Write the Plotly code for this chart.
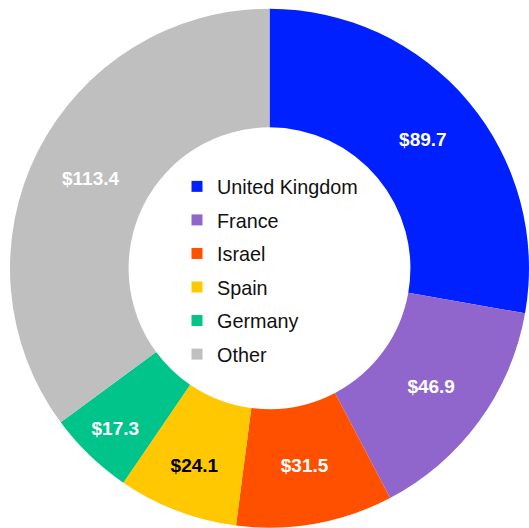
import plotly.graph_objects as go

countries = ["United Kingdom", "France", "Israel", "Spain", "Germany", "Other"]
values = [89.7, 46.9, 31.5, 24.1, 17.3, 113.4]
colors = ["#0020FF", "#9166CC", "#FF5000", "#FFC800", "#00C48A", "#BFBFBF"]
label_colors = ["white", "white", "white", "black", "white", "white"]

fig = go.Figure()
fig.add_trace(go.Pie(
    labels=countries,
    values=values,
    sort=False,
    direction="clockwise",
    rotation=0,
    hole=0.543,
    marker=dict(colors=colors, line=dict(width=0)),
    texttemplate="$%{value:.1f}",
    textposition="inside",
    insidetextorientation="horizontal",
    textfont=dict(family="Arial, Liberation Sans, sans-serif", size=19, color=label_colors, weight="bold"),
    domain=dict(x=[10 / 529, 1], y=[0, 1 - 8.5 / 528]),
    showlegend=False,
))

# legend entries (one group per country so spacing can be controlled)
for name, col in zip(countries, colors):
    fig.add_trace(go.Scatter(
        x=[None], y=[None], mode="markers", name=name,
        legendgroup=name,
        marker=dict(symbol="square", size=11, color=col),
        showlegend=True,
    ))

fig.update_layout(
    width=529, height=528,
    margin=dict(l=0, r=0, t=0, b=0),
    paper_bgcolor="white", plot_bgcolor="white",
    xaxis=dict(visible=False), yaxis=dict(visible=False),
    showlegend=True,
    legend=dict(
        x=177 / 529, xanchor="left",
        y=1 - 270.5 / 528, yanchor="middle",
        font=dict(family="Arial, Liberation Sans, sans-serif", size=19.8, color="#111111"),
        bgcolor="rgba(0,0,0,0)",
        traceorder="grouped",
        tracegroupgap=4.8,
        itemclick=False,
    ),
)

fig.write_html(
    "out.html",
    config={"displayModeBar": False},
    post_script="document.body.style.margin='0';document.body.style.overflow='hidden';",
)
